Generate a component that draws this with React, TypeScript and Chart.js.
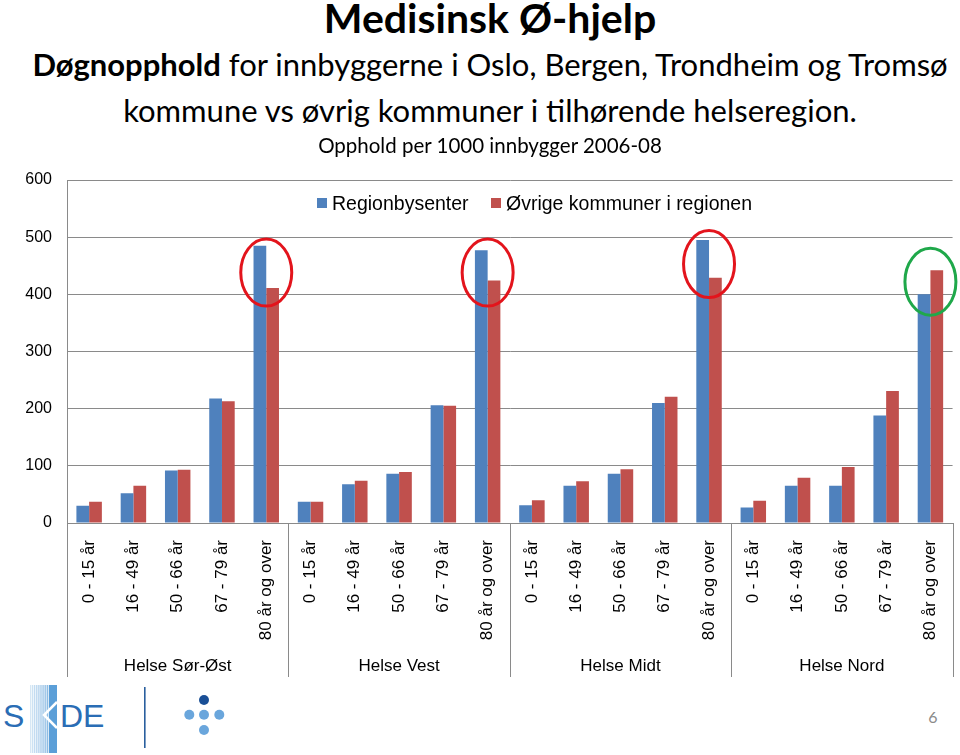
import React, { useEffect, useRef } from "react";
import { Chart, registerables } from "chart.js";

Chart.register(...registerables);

// ---- data ----
const ageGroups = ["0 - 15 år", "16 - 49 år", "50 - 66 år", "67 - 79 år", "80 år og over"];
const regions = ["Helse Sør-Øst", "Helse Vest", "Helse Midt", "Helse Nord"];
const seriesNames = ["Regionbysenter", "Øvrige kommuner i regionen"];
const regionbysenter = [30, 52, 92, 218, 485, 37, 68, 86, 206, 477, 31, 65, 86, 210, 495, 27, 65, 65, 188, 400];
const ovrigeKommuner = [37, 65, 93, 213, 411, 37, 74, 89, 205, 424, 40, 73, 94, 221, 429, 39, 79, 98, 231, 442];
const yMax = 600;
const yStep = 100;
// highlighted category index and ellipse centre (data units)
const highlightIndex = [4, 9, 14, 19];
const highlightCenter = [438, 438, 453, 422];
const highlightColor = ["#e3141c", "#e3141c", "#e3141c", "#1fa84a"];

const labels = regions.flatMap(() => ageGroups);

const BLUE = "#4F81BD";
const RED = "#C0504D";
const GRID = "#8a8a8a";
const FONT = "'Liberation Sans', Arial, sans-serif";
const TITLE_FONT = "Lato, 'Open Sans', sans-serif";

const groupPlugin = {
  id: "groupPlugin",
  afterDraw(chart: any) {
    const { ctx, chartArea, scales } = chart;
    const x = scales.x;
    const n = ageGroups.length;
    const bottom = chartArea.bottom;
    const depth = 154;
    ctx.save();
    ctx.strokeStyle = GRID;
    ctx.lineWidth = 1;
    const seps: number[] = [chartArea.left];
    for (let g = 1; g < regions.length; g++) {
      seps.push((x.getPixelForValue(g * n - 1) + x.getPixelForValue(g * n)) / 2);
    }
    seps.push(chartArea.right);
    seps.forEach((sx) => {
      const px = Math.round(sx) + 0.5;
      ctx.beginPath();
      ctx.moveTo(px, bottom);
      ctx.lineTo(px, bottom + depth);
      ctx.stroke();
    });
    ctx.fillStyle = "#000";
    ctx.font = `17px ${FONT}`;
    ctx.textAlign = "center";
    ctx.textBaseline = "middle";
    regions.forEach((r, g) => {
      const cx = (seps[g] + seps[g + 1]) / 2;
      ctx.fillText(r, cx, bottom + 143);
    });
    ctx.restore();
  },
};

const highlightPlugin = {
  id: "highlightPlugin",
  afterDatasetsDraw(chart: any) {
    const { ctx, scales } = chart;
    ctx.save();
    ctx.lineWidth = 3;
    highlightIndex.forEach((idx, i) => {
      const cx = scales.x.getPixelForValue(idx);
      const cy = scales.y.getPixelForValue(highlightCenter[i]);
      ctx.strokeStyle = highlightColor[i];
      ctx.beginPath();
      ctx.ellipse(cx, cy, 25.5, 33.5, 0, 0, Math.PI * 2);
      ctx.stroke();
    });
    ctx.restore();
  },
};

function ChartCanvas() {
  const ref = useRef<HTMLCanvasElement>(null);
  useEffect(() => {
    if (!ref.current) return;
    const chart = new Chart(ref.current, {
      type: "bar",
      data: {
        labels,
        datasets: [
          { label: seriesNames[0], data: regionbysenter, backgroundColor: BLUE, borderWidth: 0 },
          { label: seriesNames[1], data: ovrigeKommuner, backgroundColor: RED, borderWidth: 0 },
        ],
      },
      options: {
        animation: false,
        responsive: false,
        layout: { padding: { top: 30, right: 7, left: 0, bottom: 0 } },
        datasets: { bar: { categoryPercentage: 0.575, barPercentage: 1 } },
        plugins: {
          legend: { display: false },
          tooltip: { enabled: false },
          title: { display: false },
        },
        scales: {
          x: {
            grid: { display: false },
            border: { display: true, color: GRID },
            ticks: {
              autoSkip: false,
              maxRotation: 90,
              minRotation: 90,
              padding: 9,
              color: "#000",
              font: { family: FONT, size: 17 },
            },
            afterFit(s: any) {
              s.height = 157;
            },
          },
          y: {
            min: 0,
            max: yMax,
            grid: { color: GRID, drawTicks: false },
            border: { display: true, color: GRID },
            ticks: {
              stepSize: yStep,
              padding: 15,
              color: "#000",
              font: { family: FONT, size: 16 },
            },
            afterFit(s: any) {
              s.width = 67;
            },
          },
        },
      } as any,
      plugins: [groupPlugin, highlightPlugin],
    });
    return () => chart.destroy();
  }, []);
  return <canvas ref={ref} width={960} height={530} style={{ display: "block" }} />;
}

function Logo() {
  const stripes = [];
  for (let i = 0; i < 14; i++) {
    const xx = 30 + i * 1.9;
    const op = 0.25 + (i / 13) * 0.75;
    stripes.push(<rect key={i} x={xx} y={5} width={1.2} height={68} fill="#5b9fd8" opacity={op} />);
  }
  return (
    <svg width={260} height={75} style={{ position: "absolute", left: 0, top: 680 }}>
      {stripes}
      <rect x={49} y={5} width={8} height={68} fill="#5b9fd8" />
      <polyline points="57,22 44,35 57,48" fill="none" stroke="#ffffff" strokeWidth={2.5} />
      <text x={3} y={47} fontFamily={FONT} fontSize={32} fill="#2a6db5">S</text>
      <text x={60} y={47} fontFamily={FONT} fontSize={32} fill="#2a6db5">DE</text>
      <rect x={144} y={7} width={1.6} height={61} fill="#2a5f9e" />
      <circle cx={204} cy={20} r={5} fill="#1a4f96" />
      <circle cx={189.3} cy={34.7} r={5} fill="#6aa6dc" />
      <circle cx={204} cy={34.7} r={5} fill="#6aa6dc" />
      <circle cx={219.3} cy={34.7} r={5} fill="#6aa6dc" />
      <circle cx={204} cy={50} r={5} fill="#6aa6dc" />
    </svg>
  );
}

const centered = (top: number, size: number, extra: React.CSSProperties = {}): React.CSSProperties => ({
  position: "absolute",
  left: 0,
  width: 980,
  top,
  textAlign: "center",
  fontFamily: TITLE_FONT,
  fontSize: size,
  lineHeight: 1,
  whiteSpace: "nowrap",
  color: "#000",
  ...extra,
});

export default function App() {
  return (
    <div style={{ position: "absolute", left: 0, top: 0, width: 960, height: 755, background: "#fff", overflow: "hidden" }}>
      <div style={centered(-3.5, 41, { fontWeight: 700 })}>Medisinsk Ø-hjelp</div>
      <div style={centered(49, 31)}>
        <b>Døgnopphold</b> for innbyggerne i Oslo, Bergen, Trondheim og Tromsø
      </div>
      <div style={centered(94.5, 31)}>kommune vs øvrig kommuner i tilhørende helseregion.</div>
      <div style={{ position: "absolute", left: 0, top: 150 }}>
        <ChartCanvas />
      </div>
      <div style={centered(134.8, 20.5)}>Opphold per 1000 innbygger 2006-08</div>
      <div style={{ position: "absolute", left: 317, top: 198, width: 10, height: 10, background: BLUE }} />
      <div style={{ position: "absolute", left: 332, top: 194.2, fontFamily: FONT, fontSize: 19.5, lineHeight: 1, whiteSpace: "nowrap" }}>
        {seriesNames[0]}
      </div>
      <div style={{ position: "absolute", left: 491, top: 198, width: 10, height: 10, background: RED }} />
      <div style={{ position: "absolute", left: 506, top: 194.2, fontFamily: FONT, fontSize: 19.5, lineHeight: 1, whiteSpace: "nowrap" }}>
        {seriesNames[1]}
      </div>
      <Logo />
      <div style={{ position: "absolute", left: 913, width: 40, textAlign: "center", top: 709.3, fontFamily: TITLE_FONT, fontSize: 16, lineHeight: 1, color: "#8a8a8a" }}>
        6
      </div>
    </div>
  );
}
